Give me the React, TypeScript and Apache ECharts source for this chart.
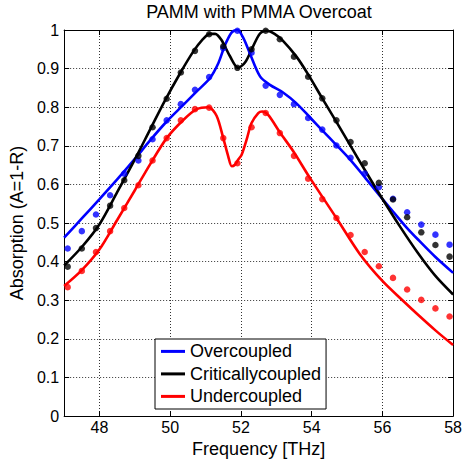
import React, { useEffect, useRef } from "react";
import * as echarts from "echarts";

// Measured frequencies (THz) of the data markers
const measFreq = [47.1, 47.5, 47.9, 48.3, 48.7, 49.1, 49.5, 49.9, 50.3, 50.7, 51.1, 51.5, 51.9, 52.3, 52.7, 53.1, 53.5, 53.9, 54.3, 54.7, 55.1, 55.5, 55.9, 56.3, 56.7, 57.1, 57.5, 57.9];
const overMeas = [0.434, 0.479, 0.522, 0.572, 0.628, 0.662, 0.717, 0.766, 0.808, 0.845, 0.878, 0.953, 0.998, 0.941, 0.856, 0.832, 0.808, 0.772, 0.742, 0.701, 0.669, 0.628, 0.593, 0.563, 0.528, 0.496, 0.470, 0.444];
const critMeas = [0.387, 0.434, 0.487, 0.545, 0.611, 0.674, 0.748, 0.822, 0.890, 0.946, 0.989, 0.958, 0.902, 0.950, 0.998, 0.976, 0.931, 0.879, 0.823, 0.766, 0.710, 0.655, 0.604, 0.561, 0.515, 0.476, 0.443, 0.413];
const underMeas = [0.334, 0.376, 0.425, 0.479, 0.539, 0.598, 0.662, 0.720, 0.766, 0.795, 0.799, 0.720, 0.655, 0.748, 0.785, 0.733, 0.674, 0.615, 0.562, 0.513, 0.469, 0.425, 0.388, 0.358, 0.328, 0.301, 0.279, 0.258];

// Simulated curves: [frequency, absorption]
const overFreq = [47, 47.5, 48, 48.5, 49, 49.43, 49.9, 50.37, 50.75, 51.12, 51.36, 51.55, 51.74, 51.9, 52.07, 52.25, 52.54, 52.82, 53.19, 53.57, 53.95, 54.3, 54.7, 55.1, 55.5, 55.95, 56.3, 56.68, 57, 57.5, 58];
const overSim = [0.462, 0.512, 0.562, 0.613, 0.666, 0.714, 0.763, 0.806, 0.841, 0.875, 0.914, 0.961, 0.994, 1.0, 0.979, 0.940, 0.880, 0.858, 0.838, 0.810, 0.774, 0.740, 0.702, 0.663, 0.619, 0.568, 0.530, 0.489, 0.458, 0.412, 0.371];

const critFreq = [47, 47.5, 48, 48.5, 49, 49.43, 49.85, 50.28, 50.65, 50.9, 51.12, 51.27, 51.45, 51.69, 51.92, 52.13, 52.33, 52.54, 52.73, 52.95, 53.19, 53.57, 53.9, 54.3, 54.7, 55.1, 55.5, 55.95, 56.49, 57, 57.5, 58];
const critSim = [0.390, 0.438, 0.497, 0.580, 0.665, 0.742, 0.817, 0.888, 0.944, 0.974, 0.990, 0.990, 0.974, 0.932, 0.902, 0.918, 0.955, 0.991, 0.998, 0.990, 0.972, 0.931, 0.885, 0.823, 0.762, 0.700, 0.638, 0.570, 0.492, 0.423, 0.363, 0.315];

const underFreq = [47, 47.5, 48, 48.5, 49, 49.43, 49.9, 50.37, 50.75, 51.08, 51.31, 51.5, 51.64, 51.74, 51.83, 51.92, 52.02, 52.16, 52.3, 52.49, 52.6, 52.77, 53.1, 53.48, 53.95, 54.7, 55.36, 56, 56.59, 57, 57.5, 58];
const underSim = [0.337, 0.378, 0.432, 0.508, 0.585, 0.652, 0.720, 0.767, 0.795, 0.800, 0.778, 0.720, 0.673, 0.647, 0.651, 0.664, 0.677, 0.716, 0.759, 0.785, 0.789, 0.780, 0.735, 0.686, 0.617, 0.513, 0.420, 0.350, 0.298, 0.263, 0.222, 0.184];

const seriesNames = ["Overcoupled", "Criticallycoupled", "Undercoupled"];
const colors = ["#0000ff", "#000000", "#ff0000"];

const FONT = "'Liberation Sans', Arial, Helvetica, sans-serif";

const pairs = (xs: number[], ys: number[]) => xs.map((x, i) => [x, ys[i]]);

export default function App() {
  const ref = useRef<HTMLDivElement>(null);
  useEffect(() => {
    if (!ref.current) return;
    const chart = echarts.init(ref.current, null, { renderer: "svg" });
    const sims = [pairs(overFreq, overSim), pairs(critFreq, critSim), pairs(underFreq, underSim)];
    const meas = [pairs(measFreq, overMeas), pairs(measFreq, critMeas), pairs(measFreq, underMeas)];
    const gridLine = { show: true, lineStyle: { color: "#333", type: [1, 2] as any, width: 1 } };
    const tick = { show: true, inside: true, length: 5, lineStyle: { color: "#000" } };
    const axisLine = { show: true, onZero: false, lineStyle: { color: "#000", width: 1 } };
    chart.setOption({
      animation: false,
      backgroundColor: "#fff",
      grid: { left: 64, right: 10, top: 30, bottom: 46, containLabel: false },
      graphic: [
        {
          type: "text",
          x: 259,
          y: 12,
          style: {
            text: "PAMM with PMMA Overcoat",
            fill: "#000",
            font: `18px ${FONT}`,
            textAlign: "center",
            textVerticalAlign: "middle",
          },
        },
      ],
      legend: {
        data: seriesNames,
        orient: "vertical",
        left: 155,
        top: 339,
        icon: "rect",
        itemWidth: 24,
        itemHeight: 3,
        itemGap: 4.5,
        padding: [3.4, 5, 3.6, 6],
        backgroundColor: "#fff",
        borderColor: "#000",
        borderWidth: 1,
        borderRadius: 0,
        textStyle: { fontFamily: FONT, fontSize: 18, color: "#000", lineHeight: 18 },
      },
      xAxis: [
        {
          type: "value",
          min: 47,
          max: 58,
          splitNumber: 5,
          position: "bottom",
          name: "Frequency [THz]",
          nameLocation: "middle",
          nameGap: 21,
          nameTextStyle: { fontFamily: FONT, fontSize: 18, color: "#000" },
          axisLine,
          axisTick: tick,
          splitLine: gridLine,
          axisLabel: {
            fontFamily: FONT,
            fontSize: 16,
            color: "#000",
            margin: 3,
            formatter: (v: number) => (Math.abs(v % 2) < 1e-9 ? String(v) : ""),
          },
        },
        {
          type: "value",
          min: 47,
          max: 58,
          splitNumber: 5,
          position: "top",
          axisLine,
          axisTick: tick,
          axisLabel: { show: false },
          splitLine: { show: false },
        },
      ],
      yAxis: [
        {
          type: "value",
          min: 0,
          max: 1,
          interval: 0.1,
          position: "left",
          name: "Absorption (A=1-R)",
          nameLocation: "middle",
          nameRotate: 90,
          nameGap: 29,
          nameTextStyle: { fontFamily: FONT, fontSize: 18, color: "#000" },
          axisLine,
          axisTick: tick,
          splitLine: gridLine,
          axisLabel: { fontFamily: FONT, fontSize: 16, color: "#000", margin: 5 },
        },
        {
          type: "value",
          min: 0,
          max: 1,
          interval: 0.1,
          position: "right",
          axisLine,
          axisTick: tick,
          axisLabel: { show: false },
          splitLine: { show: false },
        },
      ],
      series: [
        ...seriesNames.map((name, i) => ({
          name,
          type: "line",
          data: sims[i],
          smooth: 0.3,
          showSymbol: false,
          symbol: "none",
          xAxisIndex: 0,
          yAxisIndex: 0,
          lineStyle: { color: colors[i], width: 2.6 },
          itemStyle: { color: colors[i] },
          z: 2,
        })),
        ...seriesNames.map((name, i) => ({
          name: name + " (measured)",
          type: "scatter",
          data: meas[i],
          symbol: "circle",
          symbolSize: 6.5,
          xAxisIndex: 0,
          yAxisIndex: 0,
          itemStyle: { color: colors[i] },
          z: 3,
        })),
      ],
    });
    return () => chart.dispose();
  }, []);
  return <div ref={ref} style={{ position: "fixed", left: 0, top: 0, width: 465, height: 463, background: "#fff" }} />;
}
